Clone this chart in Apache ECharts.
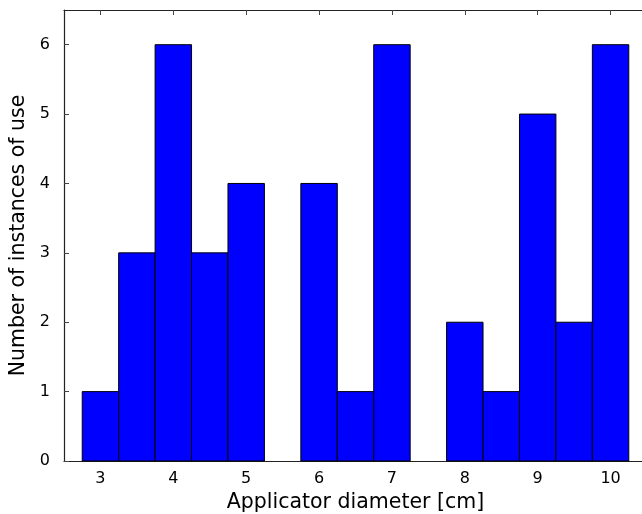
<!DOCTYPE html>
<html>
<head>
<meta charset="utf-8">
<script src="https://cdn.jsdelivr.net/npm/echarts@6/dist/echarts.min.js"></script>
<style>
  html, body { margin: 0; padding: 0; background: #fff; }
  #chart { width: 642px; height: 514px; }
</style>
</head>
<body>
<div id="chart"></div>
<script>
// histogram bins, width 0.5
const binStarts = [2.75, 3.25, 3.75, 4.25, 4.75, 5.25, 5.75, 6.25, 6.75, 7.25, 7.75, 8.25, 8.75, 9.25, 9.75]
const binWidth = 0.5
const counts = [1, 3, 6, 3, 4, 0, 4, 1, 6, 0, 2, 1, 5, 2, 6]
const xTicks = [3, 4, 5, 6, 7, 8, 9, 10]
const yTicks = [0, 1, 2, 3, 4, 5, 6]

const font = 'DejaVu Sans'
const axisColor = '#222'

let data = binStarts.map((s, i) => [s, s + binWidth, counts[i]])

function tickAxis(extra) {
  return Object.assign({
    type: 'value',
    axisLine: { show: true, onZero: false, lineStyle: { color: axisColor, width: 1.2 } },
    splitLine: { show: false },
  }, extra)
}

function ticks(vals) {
  return { show: true, inside: true, length: 5, customValues: vals, lineStyle: { color: '#444' } }
}

const chart = echarts.init(document.getElementById('chart'))
chart.setOption({
  animation: false,
  grid: { left: 64, right: -5, top: 10, bottom: 53, containLabel: false, outerBoundsMode: 'none' },
  xAxis: [
    tickAxis({
      min: 2.5, max: 10.5, position: 'bottom',
      name: 'Applicator diameter [cm]', nameLocation: 'middle', nameGap: 27,
      nameTextStyle: { fontFamily: font, fontSize: 20.5, color: '#000' },
      axisTick: ticks(xTicks),
      axisLabel: { customValues: xTicks, fontFamily: font, fontSize: 16, color: '#000', margin: 10 },
    }),
    tickAxis({
      min: 2.5, max: 10.5, position: 'top',
      axisTick: ticks(xTicks),
      axisLabel: { show: false },
    }),
  ],
  yAxis: [
    tickAxis({
      min: 0, max: 6.5, position: 'left',
      name: 'Number of instances of use', nameLocation: 'middle', nameGap: 31,
      nameTextStyle: { fontFamily: font, fontSize: 20.5, color: '#000' },
      axisTick: ticks(yTicks),
      axisLabel: { customValues: yTicks, fontFamily: font, fontSize: 16, color: '#000', margin: 14 },
    }),
    tickAxis({
      min: 0, max: 6.5, position: 'right',
      axisTick: ticks(yTicks),
      axisLabel: { show: false },
    }),
  ],
  series: [{
    type: 'custom',
    xAxisIndex: 0,
    yAxisIndex: 0,
    data: data,
    renderItem: function (params, api) {
      if (api.value(2) <= 0) return
      let p0 = api.coord([api.value(0), api.value(2)])
      let p1 = api.coord([api.value(1), 0])
      return {
        type: 'rect',
        shape: { x: p0[0], y: p0[1], width: p1[0] - p0[0], height: p1[1] - p0[1] },
        style: { fill: '#0000ff', stroke: '#000', lineWidth: 1 },
      }
    },
  }],
})
</script>
</body>
</html>
